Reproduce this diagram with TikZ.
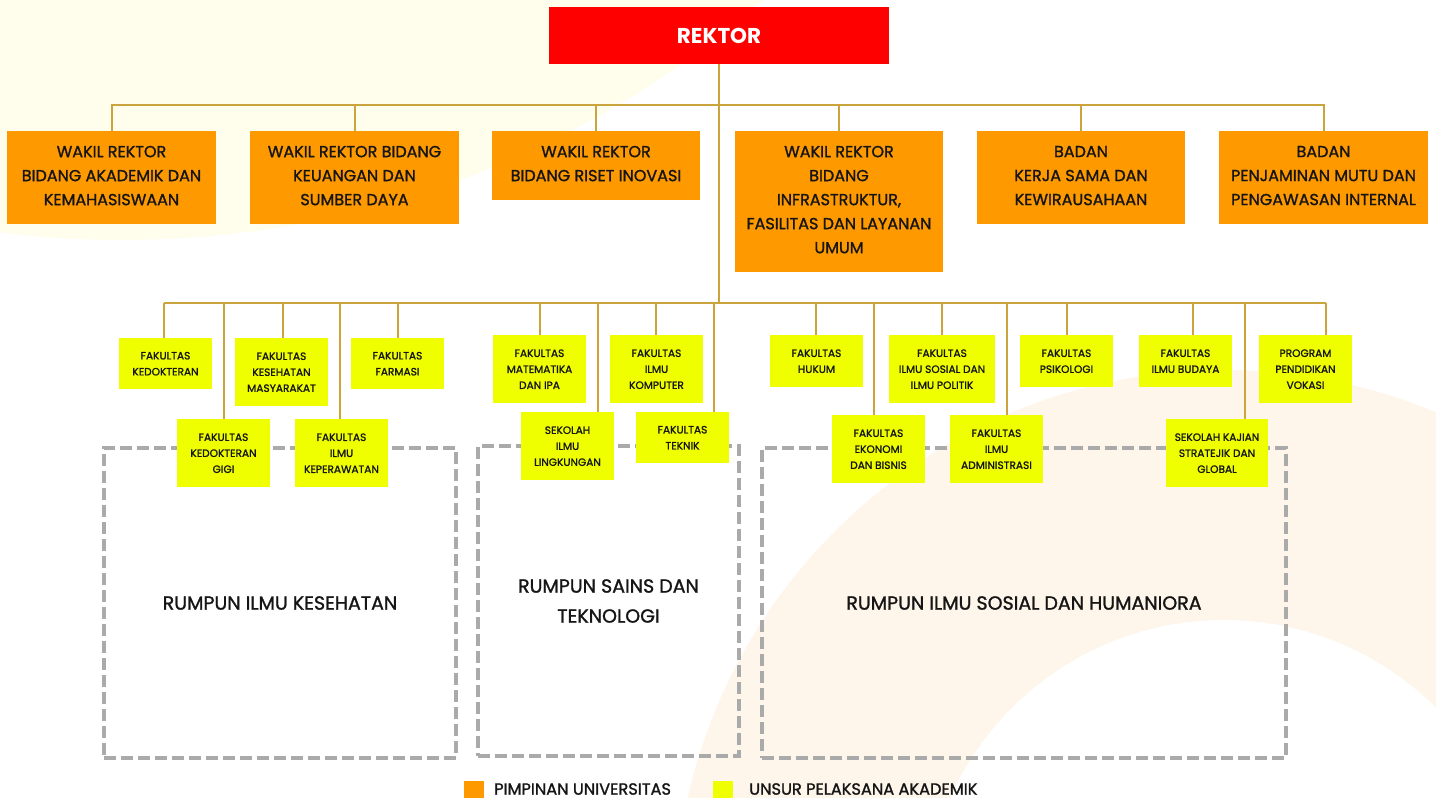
\documentclass[tikz,border=0pt]{standalone}
\usepackage{fontspec}
\setmainfont{Poppins}
\newfontfamily\popm[FakeBold=1.3]{Poppins}
\definecolor{rkred}{HTML}{FF0000}
\definecolor{org}{HTML}{FF9900}
\definecolor{ylw}{HTML}{EFFF00}
\definecolor{gold}{HTML}{CCA43E}
\definecolor{dgray}{HTML}{AAAAAA}
\definecolor{cream}{HTML}{FFFDEC}
\definecolor{peach}{HTML}{FEF5EB}
\definecolor{ink}{HTML}{151515}
\newcommand{\lowph}{\vphantom{g}}
\tikzset{
  conn/.style={draw=gold, line width=2pt},
  rkbox/.style={fill=rkred, inner sep=0pt, text=white, font=\bfseries\fontsize{21.5}{24}\selectfont},
  orgbox/.style={fill=org, inner sep=0pt, anchor=north, minimum width=209pt, align=center, text=ink, font=\popm\fontsize{16}{24}\selectfont},
  ybox/.style={fill=ylw, inner sep=0pt, anchor=north, minimum width=93pt, align=center, text=ink, font=\popm\fontsize{10.6}{16}\selectfont},
  dashbox/.style={draw=dgray, line width=4pt, dash pattern=on 12pt off 5pt, inner sep=0pt, align=center, text=ink, font=\popm\fontsize{19}{30}\selectfont},
  legsq/.style={inner sep=0pt, minimum width=20pt, minimum height=20pt},
  legtxt/.style={anchor=west, inner sep=0pt, text=ink, font=\popm\fontsize{16.2}{20}\selectfont}
}
\begin{document}
\begin{tikzpicture}[x=1pt, y=-1pt]
\useasboundingbox (0,0) rectangle (1436,798);
% background shapes
\begin{scope}
\clip (0,0) rectangle (1436,798);
\fill[cream] (122,-738) circle[radius=978pt];
\fill[peach, even odd rule] (1224,920) circle[radius=550pt] (1224,920) circle[radius=300pt];
\end{scope}

% rumpun frames
\node[dashbox, minimum width=352pt, minimum height=310pt] (r1) at (280,603) {RUMPUN ILMU KESEHATAN};
\node[dashbox, minimum width=261pt, minimum height=310pt] (r2) at (608.5,601) {RUMPUN SAINS DAN\\TEKNOLOGI};
\node[dashbox, minimum width=524pt, minimum height=310pt] (r3) at (1024,603) {RUMPUN ILMU SOSIAL DAN HUMANIORA};

% top level
\node[rkbox, minimum width=340pt, minimum height=57pt] (rektor) at (719,35.5) {REKTOR};
\node[orgbox, minimum height=93pt] (w1) at (111.5,131) {WAKIL REKTOR\\BIDANG AKADEMIK DAN\\KEMAHASISWAAN\lowph};
\node[orgbox, minimum height=93pt] (w2) at (354.5,131) {WAKIL REKTOR BIDANG\\KEUANGAN DAN\\SUMBER DAYA\lowph};
\node[orgbox, minimum width=208pt, minimum height=69pt] (w3) at (596,131) {WAKIL REKTOR\\BIDANG RISET INOVASI\lowph};
\node[orgbox, minimum width=208pt, minimum height=141pt] (w4) at (839,131) {WAKIL REKTOR\\BIDANG\\INFRASTRUKTUR,\\FASILITAS DAN LAYANAN\\UMUM\lowph};
\node[orgbox, minimum width=208pt, minimum height=93pt] (w5) at (1081,131) {BADAN\\KERJA SAMA DAN\\KEWIRAUSAHAAN\lowph};
\node[orgbox, minimum height=93pt] (w6) at (1323.5,131) {BADAN\\PENJAMINAN MUTU DAN\\PENGAWASAN INTERNAL\lowph};

% upper connectors
\coordinate (bus1) at (719,105);
\coordinate (bus2) at (719,303);
\draw[conn] (rektor.south) -- (bus2);
\draw[conn] (w1.north) |- (bus1);
\draw[conn] (w6.north) |- (bus1);
\foreach \n in {w2,w3,w4,w5} \draw[conn] (\n.north) -- (\n.north |- bus1);

% drop points on lower bus
\coordinate (d1) at (164,303);
\coordinate (d2) at (224,303);
\coordinate (d3) at (283,303);
\coordinate (d4) at (340,303);
\coordinate (d5) at (398,303);
\coordinate (d6) at (540,303);
\coordinate (d7) at (598,303);
\coordinate (d8) at (656,303);
\coordinate (d9) at (714,303);
\coordinate (d10) at (816,303);
\coordinate (d11) at (874,303);
\coordinate (d12) at (942,303);
\coordinate (d13) at (1007,303);
\coordinate (d14) at (1067,303);
\coordinate (d15) at (1193,303);
\coordinate (d16) at (1245,303);
\coordinate (d17) at (1326,303);
\draw[conn] (d1) -- (d17);

% faculty box frames (for connector ends)
\node[ybox, minimum height=51pt, fill=none] (f1) at (165.5,338) {};
\node[ybox, minimum height=68pt, fill=none] (f2) at (223.5,419) {};
\node[ybox, minimum height=68pt, fill=none] (f3) at (281.5,338) {};
\node[ybox, minimum height=68pt, fill=none] (f4) at (341.5,419) {};
\node[ybox, minimum height=51pt, fill=none] (f5) at (397.5,338) {};
\node[ybox, minimum height=68pt, fill=none] (f6) at (539.5,335) {};
\node[ybox, minimum height=68pt, fill=none] (f7) at (567.5,412) {};
\node[ybox, minimum height=68pt, fill=none] (f8) at (656.5,335) {};
\node[ybox, minimum height=51pt, fill=none] (f9) at (682.5,412) {};
\node[ybox, minimum height=52pt, fill=none] (f10) at (816.5,335) {};
\node[ybox, minimum height=68pt, fill=none] (f11) at (878.5,415) {};
\node[ybox, minimum width=106pt, minimum height=68pt, fill=none] (f12) at (942,335) {};
\node[ybox, minimum height=68pt, fill=none] (f13) at (996.5,415) {};
\node[ybox, minimum height=52pt, fill=none] (f14) at (1066.5,335) {};
\node[ybox, minimum height=52pt, fill=none] (f15) at (1185.5,335) {};
\node[ybox, minimum width=102pt, minimum height=68pt, fill=none] (f16) at (1217,419) {};
\node[ybox, minimum height=68pt, fill=none] (f17) at (1305.5,335) {};
\foreach \i in {1,...,17} \draw[conn] (d\i) -- (d\i |- f\i.north);

% faculty boxes
\node[ybox, minimum height=51pt] (F1) at (f1.north) {FAKULTAS\\KEDOKTERAN};
\node[ybox, minimum height=68pt] (F2) at (f2.north) {FAKULTAS\\KEDOKTERAN\\GIGI};
\node[ybox, minimum height=68pt] (F3) at (f3.north) {FAKULTAS\\KESEHATAN\\MASYARAKAT};
\node[ybox, minimum height=68pt] (F4) at (f4.north) {FAKULTAS\\ILMU\\KEPERAWATAN};
\node[ybox, minimum height=51pt] (F5) at (f5.north) {FAKULTAS\\FARMASI};
\node[ybox, minimum height=68pt] (F6) at (f6.north) {FAKULTAS\\MATEMATIKA\\DAN IPA};
\node[ybox, minimum height=68pt] (F7) at (f7.north) {SEKOLAH\\ILMU\\LINGKUNGAN};
\node[ybox, minimum height=68pt] (F8) at (f8.north) {FAKULTAS\\ILMU\\KOMPUTER};
\node[ybox, minimum height=51pt] (F9) at (f9.north) {FAKULTAS\\TEKNIK};
\node[ybox, minimum height=52pt] (F10) at (f10.north) {FAKULTAS\\HUKUM};
\node[ybox, minimum height=68pt] (F11) at (f11.north) {FAKULTAS\\EKONOMI\\DAN BISNIS};
\node[ybox, minimum width=106pt, minimum height=68pt] (F12) at (f12.north) {FAKULTAS\\ILMU SOSIAL DAN\\ILMU POLITIK};
\node[ybox, minimum height=68pt] (F13) at (f13.north) {FAKULTAS\\ILMU\\ADMINISTRASI};
\node[ybox, minimum height=52pt] (F14) at (f14.north) {FAKULTAS\\PSIKOLOGI};
\node[ybox, minimum height=52pt] (F15) at (f15.north) {FAKULTAS\\ILMU BUDAYA};
\node[ybox, minimum width=102pt, minimum height=68pt] (F16) at (f16.north) {SEKOLAH KAJIAN\\STRATEJIK DAN\\GLOBAL};
\node[ybox, minimum height=68pt] (F17) at (f17.north) {PROGRAM\\PENDIDIKAN\\VOKASI};

% legend
\node[legsq, fill=org] (lg1) at (474,791) {};
\node[legtxt] (lt1) at (494,789) {PIMPINAN UNIVERSITAS};
\node[legsq, fill=ylw] (lg2) at (723,791) {};
\node[legtxt] (lt2) at (749,789) {UNSUR PELAKSANA AKADEMIK};
\end{tikzpicture}
\end{document}
